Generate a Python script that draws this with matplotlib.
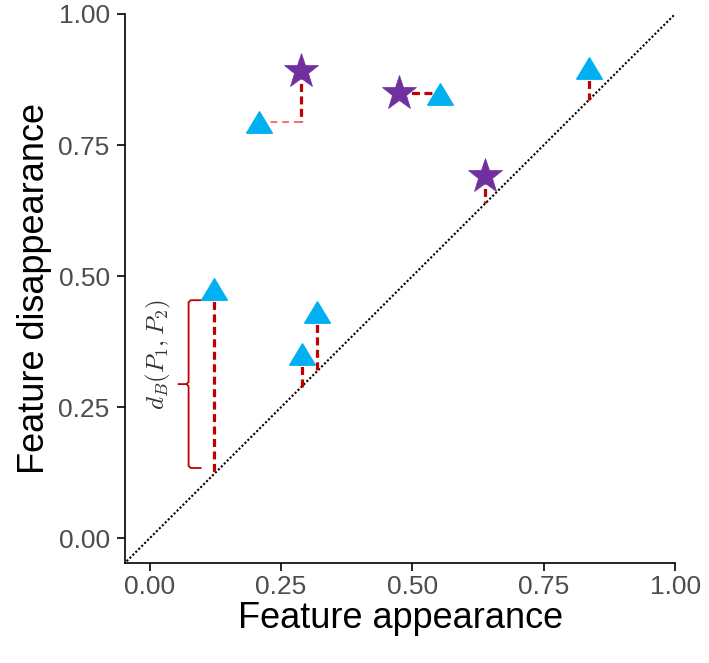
import numpy as np
import matplotlib.pyplot as plt
from matplotlib.path import Path

plt.rcParams['font.family'] = ['Liberation Sans', 'DejaVu Sans']
plt.rcParams['mathtext.fontset'] = 'cm'

# persistence diagram points
tri_x = [0.208, 0.553, 0.836, 0.289, 0.319, 0.122]
tri_y = [0.794, 0.848, 0.897, 0.351, 0.432, 0.475]
star_x = [0.288, 0.474, 0.639]
star_y = [0.891, 0.849, 0.691]

# pairs matched to each other: (star index, triangle index)
matches = [(0, 0), (1, 1)]
# points matched to the diagonal
diag_tri = [2, 3, 4, 5]
diag_star = [2]
brace_tri = 5

ticks = [0.0, 0.25, 0.5, 0.75, 1.0]
tick_labels = ['0.00', '0.25', '0.50', '0.75', '1.00']

RED = '#C00000'
BLUE = '#00B0F0'
PURPLE = '#7030A0'


def main():
    fig = plt.figure(figsize=(7.09, 6.63), dpi=100)
    ax = fig.add_axes([0.1763, 0.151, 0.776, 0.828])

    dash_kw = dict(color=RED, lw=2.3, dashes=(2.5, 1.4), zorder=2)

    # diagonal
    ax.plot([-0.1, 1.0], [-0.1, 1.0], color='black', lw=1.5, ls=(0, (1, 1)), zorder=1)

    # matched pairs
    si, ti = matches[0]
    ax.plot([star_x[si], star_x[si]], [star_y[si], tri_y[ti]], **dash_kw)
    ax.plot([tri_x[ti], star_x[si]], [tri_y[ti], tri_y[ti]], color='#FF5050',
            lw=1.2, dashes=(4, 3), zorder=2)
    si, ti = matches[1]
    ax.plot([star_x[si], tri_x[ti]], [star_y[si], star_y[si]], **dash_kw)

    # to diagonal
    for i in diag_tri:
        ax.plot([tri_x[i], tri_x[i]], [tri_y[i], tri_x[i]], **dash_kw)
    for i in diag_star:
        ax.plot([star_x[i], star_x[i]], [star_y[i], star_x[i]], **dash_kw)

    tri_marker = Path([(-0.6, -0.5), (0.6, -0.5), (0.0, 0.5), (-0.6, -0.5)])
    ax.plot(tri_x, tri_y, ls='none', marker=tri_marker, ms=18.5, color=BLUE, mec=BLUE, zorder=3)
    ax.plot(star_x, star_y, ls='none', marker='*', ms=26, color=PURPLE, mec=PURPLE, mew=0.5, zorder=3)

    # curly brace next to the distance
    bx = tri_x[brace_tri] - 0.048
    top = tri_y[brace_tri] - 0.021
    bot = tri_x[brace_tri] + 0.012
    mid = (top + bot) / 2
    ax.plot([bx + 0.023, bx + 0.004, bx, bx, bx - 0.004, bx - 0.019], 
            [top, top, top - 0.004, mid + 0.004, mid, mid], color=RED, lw=1.3, zorder=2,
            solid_joinstyle='round')
    ax.plot([bx + 0.023, bx + 0.004, bx, bx, bx - 0.004], 
            [bot, bot, bot + 0.004, mid - 0.004, mid], color=RED, lw=1.3, zorder=2,
            solid_joinstyle='round')
    ax.text(bx - 0.057, mid + 0.057, r'$d_B(P_1,P_2)$', rotation=90, fontsize=18,
            ha='center', va='center', color='#333333')

    ax.set_xlim(-0.047, 1.0)
    ax.set_ylim(-0.047, 1.0)
    ax.set_xticks(ticks)
    ax.set_xticklabels(tick_labels)
    ax.set_yticks(ticks)
    ax.set_yticklabels(tick_labels)
    for s in ['top', 'right']:
        ax.spines[s].set_visible(False)
    for s in ['left', 'bottom']:
        ax.spines[s].set_linewidth(1.2)
        ax.spines[s].set_clip_on(False)
    ax.tick_params(length=6, width=1.2, labelsize=19, labelcolor='#4D4D4D')
    ax.tick_params(axis='x', pad=3)
    ax.tick_params(axis='y', pad=5)
    ax.set_xlabel('Feature appearance', fontsize=26, labelpad=1)
    ax.set_ylabel('Feature disappearance', fontsize=26, labelpad=5)

    fig.savefig('out.png', dpi=100)


if __name__ == "__main__":
    main()
